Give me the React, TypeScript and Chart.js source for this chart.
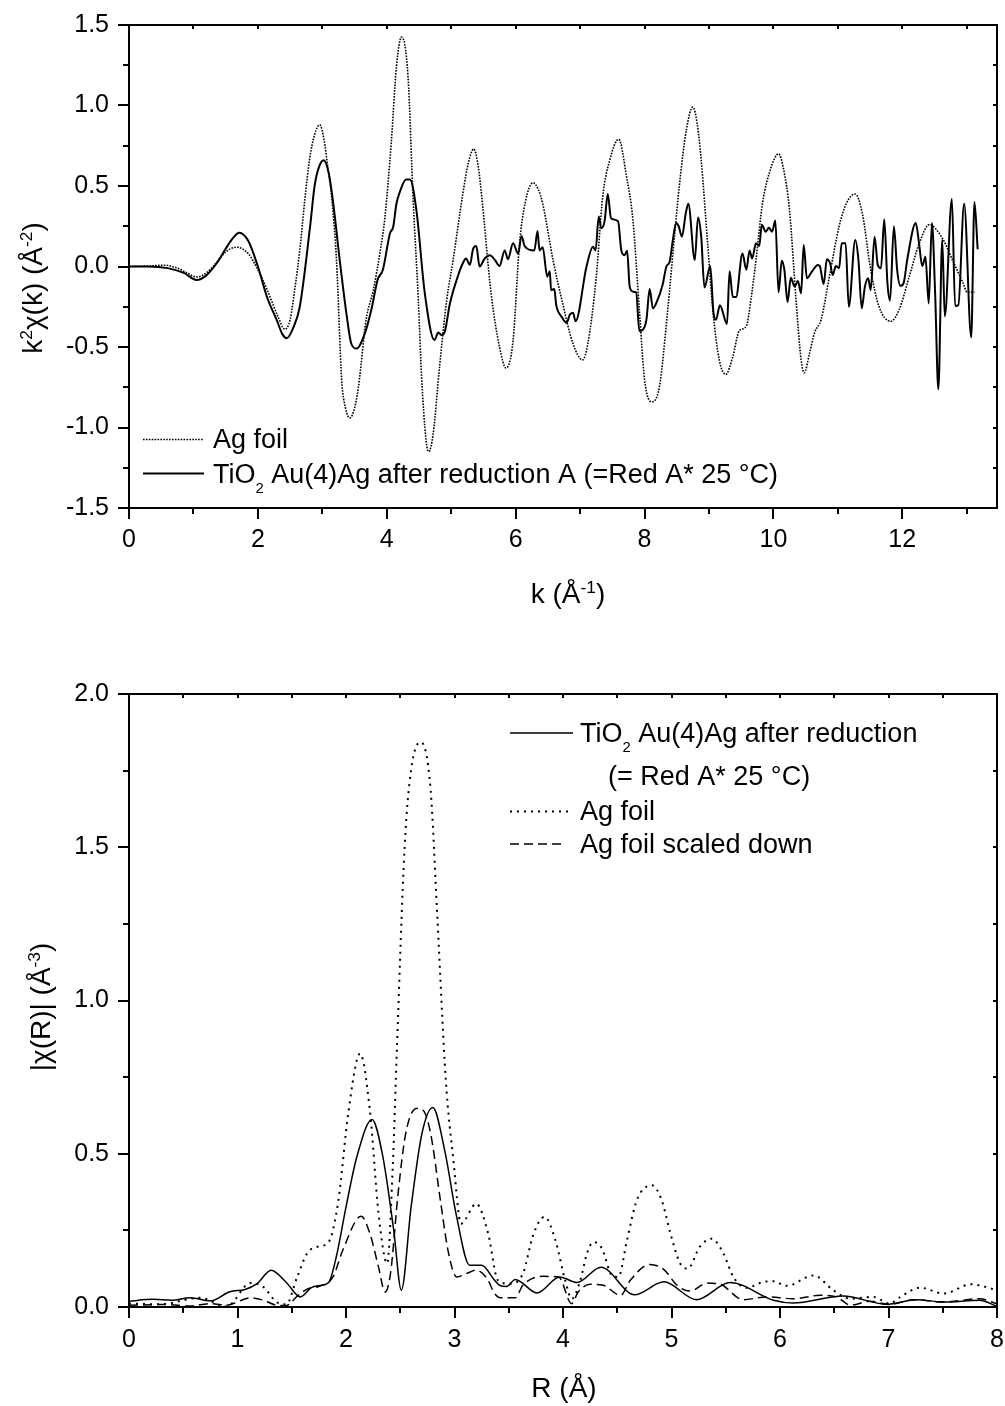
import React, { useEffect, useRef } from "react";
import { Chart, registerables } from "chart.js";

Chart.register(...registerables);

const FONT = '"Liberation Sans", Arial, Helvetica, sans-serif';

// ---------------- top panel: k^2 chi(k) ----------------
const kAxisTicks = [0, 2, 4, 6, 8, 10, 12];
const kAxisMinor = [1, 3, 5, 7, 9, 11, 13];
const chiAxisTicks = [-1.5, -1.0, -0.5, 0, 0.5, 1.0, 1.5];
const chiAxisMinor = [-1.25, -0.75, -0.25, 0.25, 0.75, 1.25];

// Ag foil (dotted)
const agFoilK: number[][] = [
  [0, 0], [0.3, 0.003], [0.55, 0.008], [0.75, -0.01], [0.9, -0.04], [1.05, -0.065], [1.2, -0.04],
  [1.35, 0.02], [1.5, 0.09], [1.67, 0.12], [1.85, 0.08], [2.0, -0.02], [2.15, -0.15], [2.3, -0.3],
  [2.42, -0.39], [2.5, -0.33], [2.58, -0.12], [2.65, 0.1], [2.73, 0.42], [2.8, 0.66], [2.88, 0.82],
  [2.96, 0.88], [3.03, 0.78], [3.09, 0.6], [3.14, 0.45], [3.22, 0.04], [3.3, -0.7], [3.36, -0.88],
  [3.43, -0.94], [3.5, -0.88], [3.56, -0.75], [3.68, -0.33], [3.79, -0.15], [3.9, 0.1], [3.97, 0.3],
  [4.07, 0.77], [4.15, 1.24], [4.23, 1.425], [4.33, 1.18], [4.41, 0.41], [4.49, -0.21], [4.54, -0.68],
  [4.61, -1.08], [4.65, -1.15], [4.72, -1.04], [4.82, -0.62], [4.93, -0.21], [5.03, 0.04], [5.18, 0.45],
  [5.27, 0.65], [5.35, 0.73], [5.42, 0.62], [5.47, 0.45], [5.62, -0.17], [5.75, -0.5], [5.85, -0.63],
  [5.96, -0.46], [6.06, 0.14], [6.15, 0.4], [6.27, 0.52], [6.35, 0.48], [6.42, 0.39], [6.58, 0.04],
  [6.73, -0.23], [6.89, -0.48], [7.04, -0.58], [7.12, -0.48], [7.25, -0.07], [7.35, 0.43], [7.46, 0.66],
  [7.6, 0.79], [7.72, 0.56], [7.82, 0.29], [7.92, -0.27], [8.0, -0.7], [8.11, -0.84], [8.23, -0.75],
  [8.36, -0.27], [8.47, 0.21], [8.54, 0.5], [8.65, 0.85], [8.75, 0.99], [8.82, 0.88], [8.88, 0.66],
  [8.98, 0.14], [9.06, -0.27], [9.16, -0.58], [9.26, -0.67], [9.37, -0.56], [9.47, -0.4], [9.58, -0.37],
  [9.65, -0.21], [9.73, 0.04], [9.83, 0.39], [9.96, 0.61], [10.08, 0.7], [10.16, 0.6], [10.25, 0.35],
  [10.35, -0.2], [10.43, -0.58], [10.48, -0.66], [10.56, -0.54], [10.64, -0.41], [10.74, -0.33],
  [10.87, -0.06], [11.02, 0.25], [11.13, 0.39], [11.27, 0.45], [11.38, 0.33], [11.51, -0.02],
  [11.64, -0.25], [11.82, -0.34], [11.95, -0.27], [12.11, -0.06], [12.26, 0.14], [12.42, 0.26],
  [12.63, 0.17], [12.78, 0.04], [12.94, -0.1], [13.01, -0.16], [13.12, -0.16],
];

// TiO2 Au(4)Ag after reduction A (solid)
const sampleK: number[][] = [
  [0, 0], [0.3, 0], [0.6, -0.01], [0.85, -0.04], [1.05, -0.084], [1.2, -0.055], [1.36, 0.02],
  [1.5, 0.11], [1.6, 0.17], [1.71, 0.21], [1.85, 0.16], [2.0, 0.0], [2.15, -0.2], [2.29, -0.33],
  [2.38, -0.42], [2.45, -0.445], [2.55, -0.38], [2.65, -0.25], [2.81, 0.247], [2.88, 0.5], [2.95, 0.62],
  [3.02, 0.66], [3.1, 0.58], [3.17, 0.39], [3.27, 0.04], [3.38, -0.31], [3.45, -0.48], [3.53, -0.51],
  [3.66, -0.415], [3.76, -0.27], [3.86, -0.08], [3.94, -0.02], [4.05, 0.206], [4.1, 0.247], [4.15, 0.39],
  [4.2, 0.46], [4.3, 0.54], [4.36, 0.54], [4.46, 0.35], [4.59, -0.165], [4.74, -0.457], [4.8, -0.41],
  [4.85, -0.425], [4.9, -0.405], [4.98, -0.23], [5.11, -0.053], [5.18, 0.02], [5.23, 0.05], [5.29, 0.01],
  [5.34, 0.11], [5.39, 0.127], [5.44, 0.0], [5.52, 0.05], [5.6, 0.07], [5.68, 0.04], [5.75, 0.003],
  [5.83, 0.1], [5.88, 0.045], [5.96, 0.144], [6.04, 0.08], [6.09, 0.19], [6.14, 0.127], [6.29, 0.1],
  [6.34, 0.22], [6.37, 0.1], [6.42, 0.12], [6.49, -0.063], [6.53, -0.03], [6.55, -0.146], [6.6, -0.14],
  [6.63, -0.24], [6.71, -0.31], [6.79, -0.35], [6.84, -0.3], [6.89, -0.287], [6.93, -0.34], [7.1, 0.0],
  [7.2, 0.123], [7.24, 0.1], [7.29, 0.31], [7.33, 0.237], [7.38, 0.28], [7.43, 0.45], [7.48, 0.3],
  [7.59, 0.28], [7.64, 0.1], [7.69, 0.07], [7.73, 0.098], [7.77, -0.125], [7.82, -0.156], [7.87, -0.16],
  [7.92, -0.4], [7.97, -0.394], [8.03, -0.33], [8.08, -0.14], [8.13, -0.26], [8.18, -0.23], [8.28, -0.115],
  [8.34, 0.0], [8.39, 0.03], [8.44, 0.165], [8.49, 0.27], [8.53, 0.25], [8.58, 0.185], [8.64, 0.33],
  [8.68, 0.39], [8.78, 0.04], [8.83, 0.305], [8.88, 0.185], [8.93, -0.13], [9.02, 0.003], [9.07, -0.287],
  [9.11, -0.33], [9.17, -0.24], [9.28, -0.357], [9.32, -0.03], [9.37, -0.19], [9.42, -0.19], [9.52, 0.08],
  [9.58, -0.02], [9.63, 0.1], [9.67, 0.05], [9.73, 0.144], [9.78, 0.127], [9.82, 0.26], [9.88, 0.216],
  [9.93, 0.24], [9.98, 0.216], [10.03, 0.285], [10.08, -0.16], [10.13, 0.036], [10.17, -0.02],
  [10.22, -0.22], [10.27, -0.07], [10.33, -0.125], [10.38, -0.09], [10.43, -0.167], [10.47, 0.134],
  [10.52, -0.073], [10.6, -0.03], [10.69, 0.01], [10.72, 0.003], [10.78, -0.109], [10.83, 0.045],
  [10.88, 0.02], [10.92, -0.053], [10.97, 0.003], [11.02, -0.011], [11.06, 0.144], [11.12, 0.144],
  [11.17, -0.25], [11.27, 0.165], [11.32, 0.04], [11.37, -0.26], [11.42, -0.125], [11.47, -0.073],
  [11.51, -0.146], [11.57, 0.185], [11.62, 0.01], [11.67, -0.011], [11.72, 0.293], [11.77, -0.104],
  [11.81, -0.212], [11.87, 0.25], [11.92, -0.02], [11.97, -0.12], [12.02, -0.104], [12.08, 0.05],
  [12.21, 0.27], [12.26, 0.144], [12.31, 0.003], [12.36, 0.06], [12.41, -0.23], [12.46, 0.27],
  [12.51, -0.167], [12.56, -0.763], [12.62, 0.165], [12.66, -0.31], [12.77, 0.42], [12.82, -0.245],
  [12.87, -0.24], [12.96, 0.39], [13.07, -0.44], [13.12, 0.4], [13.17, 0.107],
];

// ---------------- bottom panel: |chi(R)| ----------------
const rAxisTicks = [0, 1, 2, 3, 4, 5, 6, 7, 8];
const rAxisMinor = [0.5, 1.5, 2.5, 3.5, 4.5, 5.5, 6.5, 7.5];
const magAxisTicks = [0, 0.5, 1.0, 1.5, 2.0];
const magAxisMinor = [0.25, 0.75, 1.25, 1.75];

const sampleR: number[][] = [
  [0, 0.019], [0.22, 0.025], [0.4, 0.022], [0.56, 0.03], [0.75, 0.02], [0.93, 0.05], [1.07, 0.057],
  [1.18, 0.076], [1.31, 0.12], [1.45, 0.08], [1.58, 0.033], [1.68, 0.063], [1.76, 0.07], [1.84, 0.08],
  [1.91, 0.163], [2.0, 0.326], [2.1, 0.49], [2.24, 0.612], [2.34, 0.49], [2.44, 0.25], [2.51, 0.055],
  [2.6, 0.326], [2.7, 0.566], [2.8, 0.651], [2.91, 0.51], [3.02, 0.294], [3.14, 0.136], [3.25, 0.136],
  [3.37, 0.087], [3.42, 0.07], [3.48, 0.067], [3.56, 0.09], [3.76, 0.046], [3.97, 0.098], [4.13, 0.08],
  [4.35, 0.13], [4.66, 0.04], [4.93, 0.082], [5.23, 0.024], [5.54, 0.08], [5.94, 0.022], [6.12, 0.013],
  [6.58, 0.036], [6.98, 0.009], [7.26, 0.024], [7.51, 0.016], [7.84, 0.022], [8.0, 0.002],
];

const agFoilR: number[][] = [
  [0, 0.011], [0.29, 0.009], [0.65, 0.03], [0.9, 0.002], [1.12, 0.078], [1.24, 0.065], [1.36, 0.016],
  [1.45, 0.009], [1.55, 0.098], [1.64, 0.174], [1.73, 0.196], [1.84, 0.212], [1.93, 0.348], [2.02, 0.63],
  [2.13, 0.827], [2.22, 0.642], [2.3, 0.305], [2.38, 0.142], [2.43, 0.45], [2.47, 0.85], [2.54, 1.5],
  [2.6, 1.752], [2.69, 1.843], [2.78, 1.687], [2.84, 1.284], [2.92, 0.74], [2.99, 0.479], [3.06, 0.272],
  [3.2, 0.337], [3.31, 0.24], [3.4, 0.087], [3.51, 0.076], [3.63, 0.109], [3.73, 0.24], [3.83, 0.294],
  [3.93, 0.218], [4.02, 0.087], [4.08, 0.027], [4.16, 0.087], [4.22, 0.174], [4.28, 0.212], [4.36, 0.19],
  [4.45, 0.103], [4.51, 0.098], [4.59, 0.218], [4.68, 0.348], [4.82, 0.397], [4.91, 0.348], [4.99, 0.24],
  [5.08, 0.142], [5.15, 0.125], [5.26, 0.196], [5.37, 0.223], [5.48, 0.174], [5.57, 0.098], [5.69, 0.063],
  [5.85, 0.082], [5.94, 0.084], [6.06, 0.069], [6.31, 0.103], [6.49, 0.055], [6.65, 0.027], [6.86, 0.033],
  [7.01, 0.011], [7.11, 0.033], [7.29, 0.063], [7.51, 0.044], [7.76, 0.074], [8.0, 0.055],
];

const agFoilScaledR: number[][] = [
  [0, 0.006], [0.35, 0.008], [0.56, 0.003], [0.75, 0.011], [0.9, 0.006], [1.12, 0.03], [1.24, 0.022],
  [1.36, 0.006], [1.45, 0.005], [1.55, 0.035], [1.65, 0.06], [1.76, 0.068], [1.88, 0.098], [1.97, 0.185],
  [2.14, 0.296], [2.22, 0.24], [2.3, 0.13], [2.36, 0.049], [2.41, 0.109], [2.48, 0.37], [2.55, 0.566],
  [2.65, 0.648], [2.71, 0.642], [2.78, 0.566], [2.87, 0.348], [2.94, 0.185], [3.02, 0.098], [3.11, 0.109],
  [3.2, 0.12], [3.3, 0.093], [3.37, 0.044], [3.42, 0.03], [3.56, 0.03], [3.63, 0.071], [3.82, 0.1],
  [3.96, 0.098], [4.08, 0.011], [4.14, 0.049], [4.25, 0.074], [4.37, 0.071], [4.53, 0.038], [4.62, 0.087],
  [4.8, 0.139], [4.93, 0.122], [5.05, 0.071], [5.17, 0.052], [5.33, 0.078], [5.45, 0.074], [5.66, 0.024],
  [5.88, 0.033], [6.12, 0.027], [6.37, 0.038], [6.52, 0.033], [6.65, 0.006], [6.83, 0.019], [7.01, 0.008],
  [7.23, 0.024], [7.51, 0.016], [7.84, 0.027], [8.0, 0.01],
];

// ---------------- helpers ----------------
type Seg = { t: string; k?: "sup" | "sub" };

function drawRich(ctx: CanvasRenderingContext2D, segs: Seg[], x: number, y: number, size: number, align: "left" | "center") {
  const sizeOf = (s: Seg) => (s.k === "sup" ? size * 0.62 : s.k === "sub" ? size * 0.55 : size);
  const widths = segs.map((s) => {
    ctx.font = `${sizeOf(s)}px ${FONT}`;
    return ctx.measureText(s.t).width;
  });
  const total = widths.reduce((a, b) => a + b, 0);
  let cx = align === "center" ? x - total / 2 : x;
  ctx.textAlign = "left";
  ctx.textBaseline = "alphabetic";
  ctx.fillStyle = "#000";
  segs.forEach((s, i) => {
    ctx.font = `${sizeOf(s)}px ${FONT}`;
    const dy = s.k === "sup" ? -size * 0.36 : s.k === "sub" ? size * 0.36 : 0;
    ctx.fillText(s.t, cx, y + dy);
    cx += widths[i];
  });
}

function sampleLine(ctx: CanvasRenderingContext2D, x1: number, x2: number, y: number, w: number, dash: number[]) {
  ctx.save();
  ctx.strokeStyle = "#000";
  ctx.lineWidth = w;
  ctx.setLineDash(dash);
  ctx.beginPath();
  ctx.moveTo(x1, y);
  ctx.lineTo(x2, y);
  ctx.stroke();
  ctx.restore();
}

function framePlugin(o: {
  xMajor: number[];
  xMinor: number[];
  yMajor: number[];
  yMinor: number[];
  extra: (ctx: CanvasRenderingContext2D) => void;
}) {
  return {
    id: "frame",
    afterDraw(chart: any) {
      const { ctx, chartArea: a } = chart;
      const xs = chart.scales.x;
      const ys = chart.scales.y;
      ctx.save();
      ctx.strokeStyle = "#000";
      ctx.setLineDash([]);
      ctx.lineCap = "butt";
      ctx.lineWidth = 2;
      ctx.beginPath();
      const tx = (v: number, len: number) => {
        const p = Math.round(xs.getPixelForValue(v));
        ctx.moveTo(p, a.bottom);
        ctx.lineTo(p, a.bottom + len);
        ctx.moveTo(p, a.top);
        ctx.lineTo(p, a.top + 4);
      };
      const ty = (v: number, len: number) => {
        const p = Math.round(ys.getPixelForValue(v));
        ctx.moveTo(a.left, p);
        ctx.lineTo(a.left - len, p);
        ctx.moveTo(a.right, p);
        ctx.lineTo(a.right - 4, p);
      };
      o.xMajor.forEach((v) => tx(v, 11));
      o.xMinor.forEach((v) => tx(v, 6));
      o.yMajor.forEach((v) => ty(v, 11));
      o.yMinor.forEach((v) => ty(v, 6));
      ctx.stroke();
      ctx.strokeRect(a.left, a.top, a.right - a.left, a.bottom - a.top);
      o.extra(ctx);
      ctx.restore();
    },
  };
}

function axisX(min: number, max: number, ticks: number[], height: number, pad: number) {
  return {
    type: "linear",
    min,
    max,
    grid: { display: false, drawTicks: false },
    border: { display: false },
    ticks: {
      color: "#000",
      font: { family: FONT, size: 25 },
      padding: pad,
      maxRotation: 0,
      autoSkip: false,
      includeBounds: false,
      callback: (v: number) => String(v),
    },
    afterBuildTicks: (s: any) => {
      s.ticks = ticks.map((value) => ({ value }));
    },
    afterFit: (s: any) => {
      s.height = height;
      s.paddingLeft = 0;
      s.paddingRight = 0;
    },
  };
}

function axisY(min: number, max: number, ticks: number[]) {
  return {
    type: "linear",
    min,
    max,
    grid: { display: false, drawTicks: false },
    border: { display: false },
    ticks: {
      color: "#000",
      font: { family: FONT, size: 25 },
      padding: 20,
      autoSkip: false,
      includeBounds: false,
      callback: (v: number) => Number(v).toFixed(1),
    },
    afterBuildTicks: (s: any) => {
      s.ticks = ticks.map((value) => ({ value }));
    },
    afterFit: (s: any) => {
      s.width = 129;
      s.paddingTop = 0;
      s.paddingBottom = 0;
    },
  };
}

const toXY = (arr: number[][]) => arr.map(([x, y]) => ({ x, y }));

function buildTop(): any {
  return {
    type: "line",
    data: {
      datasets: [
        {
          label: "Ag foil",
          data: toXY(agFoilK),
          borderColor: "#000",
          borderWidth: 1.6,
          borderDash: [1.6, 1.3],
          pointRadius: 0,
          cubicInterpolationMode: "monotone",
          fill: false,
        },
        {
          label: "TiO2 Au(4)Ag after reduction A (=Red A* 25 °C)",
          data: toXY(sampleK),
          borderColor: "#000",
          borderWidth: 2,
          pointRadius: 0,
          cubicInterpolationMode: "monotone",
          fill: false,
        },
      ],
    },
    options: {
      animation: false,
      responsive: false,
      events: [],
      layout: { padding: { left: 0, right: 8, top: 25, bottom: 0 } },
      plugins: { legend: { display: false }, tooltip: { enabled: false } },
      scales: {
        x: axisX(0, 13.47, kAxisTicks, 132, 17),
        y: axisY(-1.5, 1.5, chiAxisTicks),
      },
    },
    plugins: [
      framePlugin({
        xMajor: kAxisTicks,
        xMinor: kAxisMinor,
        yMajor: chiAxisTicks,
        yMinor: chiAxisMinor,
        extra: (ctx) => {
          // legend
          sampleLine(ctx, 143, 204, 439.5, 1.6, [1.6, 1.3]);
          drawRich(ctx, [{ t: "Ag foil" }], 213, 448, 27, "left");
          sampleLine(ctx, 143, 204, 473.5, 2, []);
          drawRich(
            ctx,
            [{ t: "TiO" }, { t: "2", k: "sub" }, { t: " Au(4)Ag after reduction A (=Red A* 25 °C)" }],
            213,
            483,
            27,
            "left"
          );
          // x title
          drawRich(ctx, [{ t: "k (Å" }, { t: "-1", k: "sup" }, { t: ")" }], 568, 603, 28, "center");
          // y title
          ctx.save();
          ctx.translate(42, 288);
          ctx.rotate(-Math.PI / 2);
          drawRich(
            ctx,
            [{ t: "k" }, { t: "2", k: "sup" }, { t: "χ(k) (Å" }, { t: "-2", k: "sup" }, { t: ")" }],
            0,
            0,
            28,
            "center"
          );
          ctx.restore();
        },
      }),
    ],
  };
}

function buildBottom(): any {
  const off = 660;
  return {
    type: "line",
    data: {
      datasets: [
        {
          label: "TiO2 Au(4)Ag after reduction (= Red A* 25 °C)",
          data: toXY(sampleR),
          borderColor: "#000",
          borderWidth: 1.5,
          pointRadius: 0,
          cubicInterpolationMode: "monotone",
          fill: false,
        },
        {
          label: "Ag foil",
          data: toXY(agFoilR),
          borderColor: "#000",
          borderWidth: 2,
          borderDash: [2, 5],
          pointRadius: 0,
          cubicInterpolationMode: "monotone",
          fill: false,
        },
        {
          label: "Ag foil scaled down",
          data: toXY(agFoilScaledR),
          borderColor: "#000",
          borderWidth: 1.5,
          borderDash: [9, 5],
          pointRadius: 0,
          cubicInterpolationMode: "monotone",
          fill: false,
        },
      ],
    },
    options: {
      animation: false,
      responsive: false,
      events: [],
      layout: { padding: { left: 0, right: 8, top: 34, bottom: 0 } },
      plugins: { legend: { display: false }, tooltip: { enabled: false } },
      scales: {
        x: axisX(0, 8, rAxisTicks, 99, 18),
        y: axisY(0, 2, magAxisTicks),
      },
    },
    plugins: [
      framePlugin({
        xMajor: rAxisTicks,
        xMinor: rAxisMinor,
        yMajor: magAxisTicks,
        yMinor: magAxisMinor,
        extra: (ctx) => {
          sampleLine(ctx, 510, 573, 733 - off, 1.5, []);
          drawRich(
            ctx,
            [{ t: "TiO" }, { t: "2", k: "sub" }, { t: " Au(4)Ag after reduction" }],
            580,
            742 - off,
            27,
            "left"
          );
          drawRich(ctx, [{ t: "(= Red A* 25 °C)" }], 608, 785 - off, 27, "left");
          sampleLine(ctx, 510, 572, 811.5 - off, 2, [2, 5]);
          drawRich(ctx, [{ t: "Ag foil" }], 580, 820 - off, 27, "left");
          sampleLine(ctx, 510, 562, 844 - off, 1.5, [9, 5]);
          drawRich(ctx, [{ t: "Ag foil scaled down" }], 580, 853 - off, 27, "left");
          // x title
          drawRich(ctx, [{ t: "R (Å)" }], 564, 1397 - off, 28, "center");
          // y title
          ctx.save();
          ctx.translate(50, 1007 - off);
          ctx.rotate(-Math.PI / 2);
          drawRich(ctx, [{ t: "|χ(R)| (Å" }, { t: "-3", k: "sup" }, { t: ")" }], 0, 0, 28, "center");
          ctx.restore();
        },
      }),
    ],
  };
}

function ChartCanvas(props: { width: number; height: number; top: number; build: () => any }) {
  const ref = useRef<HTMLCanvasElement>(null);
  useEffect(() => {
    const chart = new Chart(ref.current as HTMLCanvasElement, props.build());
    return () => chart.destroy();
  }, []);
  return (
    <canvas
      ref={ref}
      width={props.width}
      height={props.height}
      style={{ position: "absolute", left: 0, top: props.top, width: props.width, height: props.height }}
    />
  );
}

export default function App() {
  return (
    <div style={{ position: "absolute", left: 0, top: 0, width: 1005, height: 1406, background: "#fff" }}>
      <ChartCanvas width={1005} height={640} top={0} build={buildTop} />
      <ChartCanvas width={1005} height={746} top={660} build={buildBottom} />
    </div>
  );
}
